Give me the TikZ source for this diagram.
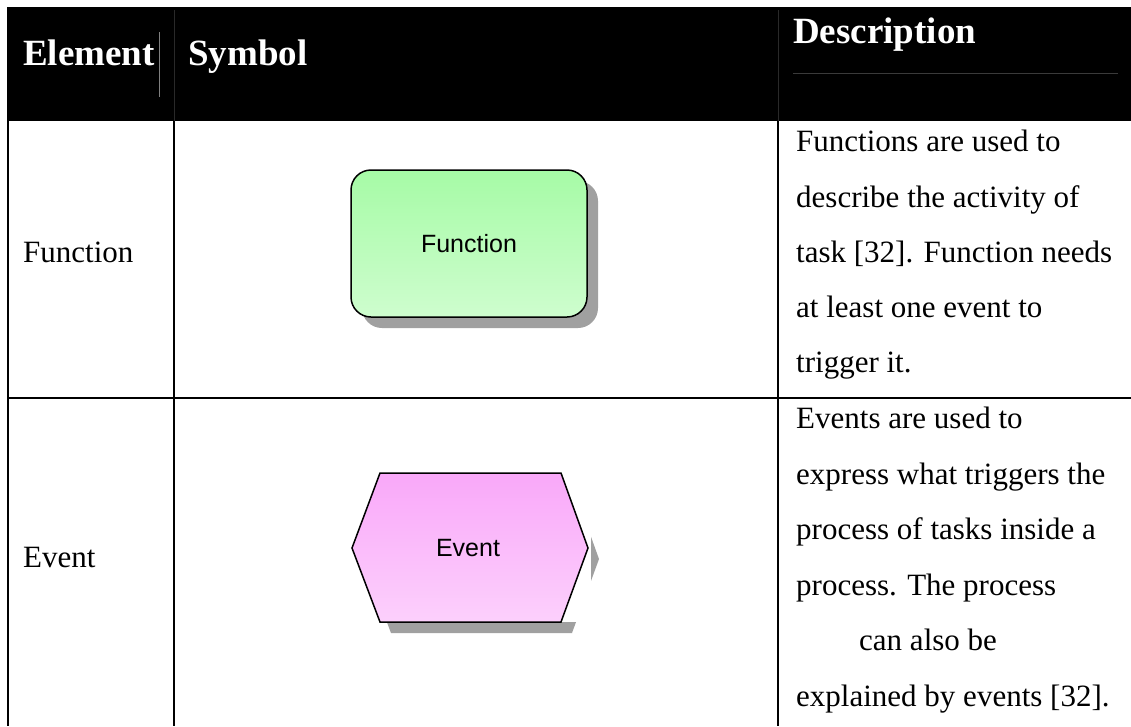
\documentclass[tikz,border=0pt]{standalone}
\usepackage{fontspec}
\setmainfont{Liberation Serif}
\newfontfamily\shapefont{Liberation Sans}

\definecolor{funtop}{RGB}{166,251,166}
\definecolor{funbot}{RGB}{206,253,206}
\definecolor{evtop}{RGB}{249,168,249}
\definecolor{evbot}{RGB}{252,208,252}
\definecolor{dropshade}{RGB}{160,160,160}
\definecolor{headrule}{RGB}{58,58,58}

\begin{document}
\begin{tikzpicture}[x=1pt,y=-1pt,
  rule/.style={line width=1.6pt},
  headtext/.style={text=white,font=\fontsize{37}{44}\selectfont\bfseries,inner sep=0,anchor=base west},
  bodytext/.style={font=\fontsize{31}{37}\selectfont,inner sep=0,anchor=base west},
  shapelabel/.style={font=\shapefont\fontsize{25}{30}\selectfont,inner sep=0}]

\useasboundingbox (0,0) rectangle (1131,726);
\fill[white] (0,0) rectangle (1131,726);

% header band
\fill[black] (7,7) rectangle (1131,121);
\draw[headrule!70!black,line width=0.8pt] (174,10) -- (174,121);
\draw[headrule!70!black,line width=0.8pt] (778,10) -- (778,121);
\draw[gray,line width=0.8pt] (159,32) -- (159,97);
\draw[headrule,line width=1pt] (793,73) -- (1118,73);

\node[headtext] (hElement) at (23,65) {Element};
\node[headtext] (hSymbol) at (188,65) {Symbol};
\node[headtext] (hDescription) at (793,43) {Description};

% table rules
\draw[rule] (7.7,121) -- (7.7,726);
\draw[rule] (174,121) -- (174,726);
\draw[rule] (778,121) -- (778,726);
\draw[rule] (7,398) -- (1131,398);

% element column
\node[bodytext] (eFunction) at (23,262) {Function};
\node[bodytext] (eEvent) at (23,567) {Event};

% function symbol
\fill[dropshade,rounded corners=20pt] (362,181) rectangle (598,328);
\node[draw,line width=1.5pt,rounded corners=20pt,top color=funtop,bottom color=funbot,
      minimum width=236pt,minimum height=147pt,inner sep=0,shapelabel] (function) at (469,243.5) {Function};

% event symbol
\begin{scope}
  \clip (380,622) rectangle (620,645) (591,500) rectangle (620,645);
  \fill[dropshade] (391,484) -- (572,484) -- (599,559) -- (572,633) -- (391,633) -- (363,559) -- cycle;
\end{scope}
\path[draw,line width=1.5pt,line join=miter,top color=evtop,bottom color=evbot]
  (380,473) -- (561,473) -- (588,548) -- (561,622) -- (380,622) -- (352,548) -- cycle;
\node[shapelabel] (event) at (468,548) {Event};

% description column
\node[bodytext] (d1) at (796,151) {Functions are used to};
\node[bodytext] (d2) at (796,207) {describe the activity of};
\node[bodytext] (d3) at (796,262) {task [32]. Function needs};
\node[bodytext] (d4) at (796,317) {at least one event to};
\node[bodytext] (d5) at (796,372) {trigger it.};
\node[bodytext] (d6) at (796,428) {Events are used to};
\node[bodytext] (d7) at (796,484) {express what triggers the};
\node[bodytext] (d8) at (796,539) {process of tasks inside a};
\node[bodytext] (d9) at (796,595) {process. The process};
\node[bodytext] (d10) at (859,650) {can also be};
\node[bodytext] (d11) at (796,706) {explained by events [32].};
\end{tikzpicture}
\end{document}
